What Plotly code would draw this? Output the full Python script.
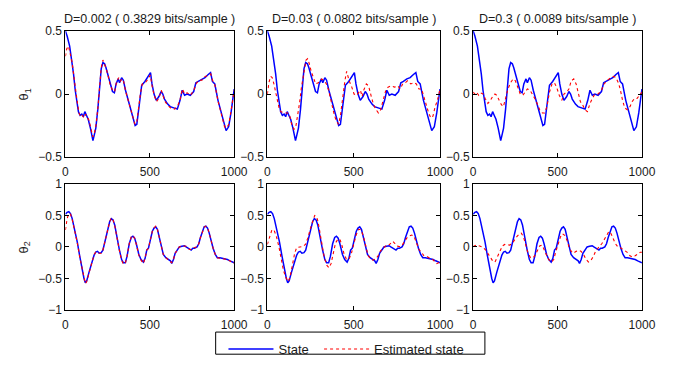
import plotly.graph_objects as go

# ---------------- data ----------------
titles = ["D=0.002 ( 0.3829 bits/sample )", "D=0.03 ( 0.0802 bits/sample )", "D=0.3 ( 0.0089 bits/sample )"]
row_labels = ["θ<sub>1</sub>", "θ<sub>2</sub>"]
legend_names = ["State", "Estimated state"]
x_ticks = [0, 500, 1000]
y_ticks_top = [-0.5, 0, 0.5]
y_ticks_bottom = [-1, -0.5, 0, 0.5, 1]

state_theta1 = [(0,0.50),(10,0.46),(25,0.38),(38,0.27),(48,0.16),(58,0.03),(67,-0.05),(77,-0.14),(87,-0.17),
    (97,-0.16),(106,-0.18),(115,-0.14),(125,-0.17),(135,-0.20),(148,-0.27),(163,-0.37),(170,-0.33),(180,-0.27),
    (192,-0.12),(203,0.05),(212,0.20),(222,0.25),(232,0.24),(240,0.21),(250,0.16),(262,0.10),(279,0.02),(290,0.01),
    (300,0.08),(313,0.12),(321,0.09),(333,0.13),(343,0.11),(356,0.03),(375,-0.06),(394,-0.15),(413,-0.25),(423,-0.24),
    (433,-0.12),(442,-0.02),(452,0.07),(471,0.10),(490,0.14),(504,0.17),(513,0.08),(525,0.0),(538,-0.05),(554,-0.02),
    (567,0.02),(577,0.0),(587,-0.04),(606,-0.08),(621,-0.10),(644,-0.11),(663,-0.12),(679,-0.05),(692,0.03),(706,-0.01),
    (721,0.0),(740,-0.01),(760,0.02),(773,0.09),(788,0.10),(808,0.12),(827,0.13),(846,0.155),(860,0.17),(871,0.10),
    (885,0.08),(904,-0.05),(923,-0.15),(942,-0.25),(952,-0.29),(967,-0.26),(981,-0.15),(1000,0.04)]

est_theta1_d0002 = [(0,0.30),(8,0.36),(18,0.38),(30,0.32),(40,0.25),(50,0.14),(60,0.02),(70,-0.06),(80,-0.15),(90,-0.18),
    (100,-0.17),(110,-0.19),(120,-0.16),(130,-0.18),(140,-0.21),(152,-0.28),(163,-0.34),(172,-0.31),(182,-0.24),(193,-0.10),
    (203,0.07),(212,0.21),(222,0.27),(232,0.24),(242,0.20),(252,0.15),(264,0.08),(279,0.03),(292,0.02),(302,0.09),(315,0.13),
    (325,0.10),(335,0.12),(345,0.10),(357,0.02),(376,-0.07),(395,-0.17),(412,-0.24),(423,-0.22),(434,-0.10),(444,0.0),
    (455,0.08),(473,0.09),(490,0.12),(503,0.15),(514,0.06),(526,-0.01),(540,-0.06),(555,-0.03),(568,0.03),(578,-0.01),
    (590,-0.06),(607,-0.09),(623,-0.11),(645,-0.12),(664,-0.10),(680,-0.04),(693,0.04),(707,0.0),(722,0.01),(741,-0.01),
    (761,0.03),(774,0.08),(790,0.11),(809,0.11),(828,0.14),(847,0.15),(861,0.16),(872,0.11),(886,0.07),(905,-0.06),
    (924,-0.16),(943,-0.26),(954,-0.27),(968,-0.24),(982,-0.13),(1000,0.03)]

est_theta1_d003 = [(0,0.0),(9,0.09),(19,0.14),(28,0.13),(38,0.08),(51,0.0),(60,-0.07),(70,-0.125),(79,-0.14),(98,-0.15),
    (117,-0.15),(130,-0.175),(141,-0.24),(154,-0.28),(164,-0.265),(173,-0.20),(186,-0.075),(197,0.05),(211,0.18),(224,0.27),
    (233,0.28),(242,0.245),(254,0.18),(267,0.12),(280,0.08),(295,0.09),(314,0.12),(329,0.105),(342,0.08),(355,0.03),
    (370,-0.075),(385,-0.15),(398,-0.21),(412,-0.24),(423,-0.175),(436,-0.02),(449,0.105),(459,0.18),(474,0.105),(489,0.055),
    (502,0.0),(517,-0.01),(530,0.015),(539,0.03),(549,-0.02),(558,0.03),(573,0.08),(586,0.065),(602,-0.02),(615,-0.085),
    (630,-0.125),(643,-0.15),(656,-0.125),(671,-0.05),(686,0.03),(699,0.055),(718,0.065),(737,0.055),(756,0.065),(769,0.04),
    (784,0.08),(799,0.09),(812,0.105),(831,0.08),(850,0.09),(863,0.08),(878,0.04),(893,0.04),(906,-0.02),(919,-0.10),
    (934,-0.15),(947,-0.19),(959,-0.175),(972,-0.10),(985,-0.05),(1000,0.04)]

est_theta1_d03 = [(0,0.015),(10,0.0),(19,0.015),(33,-0.01),(44,0.008),(58,0.0),(71,-0.035),(87,-0.075),(102,-0.05),(115,-0.02),
    (129,0.0),(140,-0.01),(154,-0.05),(167,-0.085),(179,-0.10),(192,-0.035),(206,0.04),(221,0.09),(237,0.12),(250,0.105),
    (263,0.055),(279,0.0),(294,-0.01),(308,0.015),(321,0.04),(337,0.03),(352,0.0),(365,-0.035),(379,-0.075),(394,-0.125),
    (410,-0.15),(423,-0.15),(437,-0.10),(452,0.015),(467,0.08),(481,0.09),(494,0.055),(510,-0.01),(525,-0.05),(538,0.0),
    (554,0.015),(567,0.04),(581,0.105),(596,0.12),(610,0.08),(621,0.015),(635,-0.06),(648,-0.085),(663,-0.125),(677,-0.14),
    (692,-0.075),(706,-0.035),(721,0.0),(740,0.0),(760,0.03),(775,0.08),(794,0.105),(813,0.13),(833,0.14),(846,0.13),
    (860,0.09),(871,0.04),(885,-0.05),(898,-0.11),(913,-0.125),(929,-0.10),(942,-0.06),(956,-0.035),(971,-0.035),
    (987,-0.01),(1000,0.015)]

state_theta2 = [(0,0.52),(10,0.55),(20,0.56),(30,0.53),(40,0.45),(55,0.28),(70,0.08),(85,-0.15),(100,-0.38),(110,-0.50),
    (118,-0.57),(126,-0.54),(140,-0.40),(155,-0.25),(170,-0.13),(180,-0.08),(190,-0.07),(200,-0.10),(212,-0.09),(222,-0.05),
    (235,0.10),(250,0.28),(262,0.40),(272,0.45),(282,0.43),(292,0.35),(305,0.15),(320,-0.05),(333,-0.20),(343,-0.25),
    (355,-0.25),(365,-0.15),(378,0.05),(390,0.15),(400,0.17),(410,0.14),(420,0.05),(435,-0.12),(448,-0.20),(462,-0.24),
    (472,-0.18),(482,-0.05),(492,-0.02),(505,0.15),(515,0.25),(525,0.30),(535,0.32),(545,0.28),(555,0.15),(568,-0.02),
    (580,-0.12),(595,-0.17),(610,-0.20),(622,-0.22),(630,-0.26),(640,-0.20),(650,-0.10),(662,-0.05),(675,0.0),(690,0.01),
    (705,0.02),(715,0.0),(725,-0.02),(735,-0.04),(745,-0.05),(755,-0.02),(765,-0.02),(780,0.0),(790,0.05),(800,0.15),
    (812,0.25),(822,0.32),(832,0.33),(842,0.30),(852,0.22),(862,0.10),(875,-0.02),(888,-0.12),(900,-0.17),(915,-0.17),
    (930,-0.18),(945,-0.18),(960,-0.20),(975,-0.22),(990,-0.24),(1000,-0.25)]

est_theta2_d0002 = [(0,0.27),(10,0.45),(20,0.53),(30,0.52),(40,0.44),(55,0.27),(70,0.07),(85,-0.16),(100,-0.38),(110,-0.51),
    (118,-0.58),(126,-0.55),(140,-0.41),(155,-0.25),(170,-0.12),(180,-0.08),(190,-0.08),(200,-0.10),(212,-0.10),(222,-0.05),
    (235,0.10),(250,0.28),(262,0.40),(272,0.46),(282,0.43),(292,0.34),(305,0.14),(320,-0.06),(333,-0.21),(343,-0.27),
    (355,-0.26),(365,-0.15),(378,0.05),(390,0.16),(400,0.18),(410,0.14),(420,0.04),(435,-0.13),(448,-0.21),(462,-0.26),
    (472,-0.18),(482,-0.05),(492,-0.02),(505,0.15),(515,0.25),(525,0.30),(535,0.33),(545,0.28),(555,0.15),(568,-0.02),
    (580,-0.12),(595,-0.17),(610,-0.21),(622,-0.23),(630,-0.25),(640,-0.20),(650,-0.10),(662,-0.05),(675,0.0),(690,0.02),
    (705,0.02),(715,0.01),(725,-0.01),(735,-0.04),(745,-0.04),(755,-0.02),(765,-0.01),(780,0.0),(790,0.05),(800,0.15),
    (812,0.25),(822,0.31),(832,0.33),(842,0.30),(852,0.22),(862,0.10),(875,-0.02),(888,-0.12),(900,-0.17),(915,-0.18),
    (930,-0.18),(945,-0.19),(960,-0.21),(975,-0.22),(990,-0.26),(1000,-0.25)]

est_theta2_d003 = [(0,0.04),(13,0.17),(26,0.27),(38,0.27),(51,0.18),(66,0.015),(79,-0.19),(93,-0.37),(108,-0.49),(121,-0.55),
    (132,-0.47),(146,-0.29),(159,-0.09),(170,-0.01),(183,0.0),(202,0.005),(221,0.04),(234,0.14),(250,0.30),(263,0.42),
    (274,0.50),(284,0.485),(293,0.41),(302,0.27),(316,0.04),(329,-0.16),(344,-0.29),(357,-0.33),(369,-0.265),(382,-0.11),
    (395,0.065),(410,0.13),(422,0.11),(433,0.015),(444,-0.11),(457,-0.19),(471,-0.20),(486,-0.11),(499,0.04),(514,0.19),
    (529,0.28),(543,0.27),(556,0.17),(571,-0.01),(584,-0.14),(599,-0.19),(612,-0.21),(628,-0.19),(641,-0.14),(656,-0.06),
    (671,-0.025),(684,0.015),(698,0.015),(713,0.065),(726,0.09),(739,0.055),(750,0.015),(764,0.005),(777,0.015),(792,0.075),
    (807,0.14),(820,0.17),(836,0.19),(849,0.17),(864,0.065),(879,-0.045),(892,-0.085),(907,-0.14),(924,-0.15),(940,-0.18),
    (955,-0.19),(968,-0.23),(981,-0.265),(1000,-0.24)]

est_theta2_d03 = [(0,0.005),(19,0.03),(38,0.015),(58,-0.005),(73,-0.045),(87,-0.10),(102,-0.17),(115,-0.22),(129,-0.24),
    (144,-0.15),(160,-0.045),(173,0.015),(187,0.04),(202,0.03),(217,0.03),(231,0.055),(244,0.115),(260,0.17),(275,0.21),
    (285,0.22),(298,0.16),(312,0.03),(325,-0.10),(340,-0.17),(356,-0.17),(369,-0.12),(383,-0.045),(394,0.015),(406,0.03),
    (417,-0.02),(433,-0.12),(448,-0.20),(463,-0.24),(477,-0.20),(490,-0.07),(504,0.055),(517,0.16),(529,0.21),(542,0.185),
    (556,0.105),(567,0.005),(581,-0.07),(594,-0.10),(610,-0.07),(625,-0.055),(640,-0.07),(654,-0.12),(667,-0.19),(683,-0.24),
    (696,-0.22),(712,-0.15),(725,-0.07),(737,-0.02),(750,0.015),(763,0.055),(779,0.13),(792,0.21),(804,0.245),(817,0.21),
    (831,0.13),(842,0.055),(856,0.005),(869,-0.005),(885,-0.035),(898,-0.055),(913,-0.085),(929,-0.14),(944,-0.16),
    (960,-0.14),(975,-0.11),(990,-0.085),(1000,-0.085)]

states = [state_theta1, state_theta2]
estimates = [[est_theta1_d0002, est_theta1_d003, est_theta1_d03],
             [est_theta2_d0002, est_theta2_d003, est_theta2_d03]]

# ---------------- figure ----------------
W, H = 694, 366
col_px = [(64, 237), (271, 448), (482, 655)]
row_px = [(25, 156), (184, 315)]
FONT = "Liberation Sans, Arial, Helvetica, sans-serif"

fig = go.Figure()
for r in range(2):
    for c in range(3):
        k = r * 3 + c + 1
        xa = "x" if k == 1 else f"x{k}"
        ya = "y" if k == 1 else f"y{k}"
        sx, sy = zip(*states[r])
        ex, ey = zip(*estimates[r][c])
        fig.add_trace(go.Scatter(x=sx, y=sy, mode="lines", name=legend_names[0],
                                 line=dict(color="#0000ff", width=1.5),
                                 xaxis=xa, yaxis=ya, showlegend=(k == 1), legend="legend"))
        fig.add_trace(go.Scatter(x=ex, y=ey, mode="lines", name=legend_names[1],
                                 line=dict(color="#ff0000", width=1.1, dash="dot"),
                                 xaxis=xa, yaxis=ya, showlegend=(k == 1), legend="legend2"))

axis_common = dict(showline=True, linecolor="black", linewidth=1, mirror="ticks",
                   ticks="inside", ticklen=4, tickcolor="black", showgrid=False, zeroline=False,
                   tickfont=dict(family=FONT, size=12, color="#1a1a1a"))
for r in range(2):
    for c in range(3):
        k = r * 3 + c + 1
        xname = "xaxis" if k == 1 else f"xaxis{k}"
        yname = "yaxis" if k == 1 else f"yaxis{k}"
        x0, x1 = col_px[c]
        y0, y1 = row_px[r]
        fig.layout[xname] = dict(axis_common, domain=[x0 / W, x1 / W], range=[0, 1000],
                                 tickvals=x_ticks, ticklabelstandoff=4,
                                 anchor=("y" if k == 1 else f"y{k}"))
        yt = y_ticks_top if r == 0 else y_ticks_bottom
        yr = [-0.5, 0.5] if r == 0 else [-1, 1]
        fig.layout[yname] = dict(axis_common, domain=[1 - y1 / H, 1 - y0 / H], range=yr,
                                 tickvals=yt, anchor=("x" if k == 1 else f"x{k}"))

annotations = []
for c in range(3):
    x0, x1 = col_px[c]
    annotations.append(dict(text=titles[c], x=(x0 + x1) / 2 / W, y=1 - 12 / H, xref="paper", yref="paper",
                            xanchor="center", yanchor="middle", showarrow=False,
                            font=dict(family=FONT, size=12.5, color="#1a1a1a")))
for r in range(2):
    y0, y1 = row_px[r]
    annotations.append(dict(text=row_labels[r], x=22 / W, y=1 - (y0 + y1) / 2 / H, xref="paper", yref="paper",
                            xanchor="center", yanchor="middle", showarrow=False, textangle=-90,
                            font=dict(family=FONT, size=13, color="#1a1a1a")))

legend_common = dict(orientation="h", xanchor="left", yanchor="top", y=1 - 340 / H,
                     bgcolor="rgba(0,0,0,0)", borderwidth=0, itemwidth=45,
                     font=dict(family=FONT, size=13, color="#1a1a1a"))

fig.update_layout(
    width=W, height=H, margin=dict(l=0, r=0, t=0, b=0),
    paper_bgcolor="white", plot_bgcolor="white",
    annotations=annotations,
    shapes=[dict(type="rect", xref="paper", yref="paper", x0=218 / W, x1=494 / W,
                 y0=1 - 361 / H, y1=1 - 338 / H, line=dict(color="black", width=1), fillcolor="rgba(0,0,0,0)")],
    legend=dict(legend_common, x=226 / W),
    legend2=dict(legend_common, x=324 / W),
)

fig.write_html("out.html")
